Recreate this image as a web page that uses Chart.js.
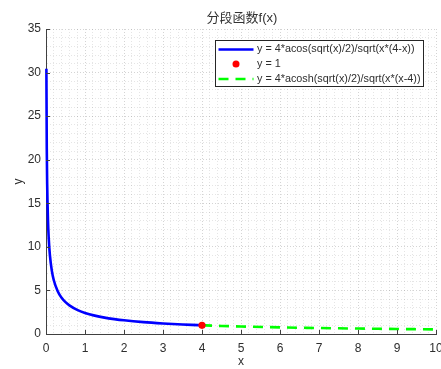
<!DOCTYPE html>
<html>
<head>
<meta charset="utf-8">
<script src="https://cdn.jsdelivr.net/npm/chart.js@4.4.1/dist/chart.umd.min.js"></script>
<style>
html,body{margin:0;padding:0;background:#fff;}
#wrap{position:relative;width:441px;height:369px;}
</style>
</head>
<body>
<div id="wrap"><canvas id="c" width="441" height="369"></canvas></div>
<script>
// ---- data ----
const titleText = '分段函数f(x)';
const xLabel = 'x';
const yLabel = 'y';
const seriesNames = [
  'y = 4*acos(sqrt(x)/2)/sqrt(x*(4-x))',
  'y = 1',
  'y = 4*acosh(sqrt(x)/2)/sqrt(x*(x-4))'
];
const x1 = [0.01,0.02,0.03,0.05,0.07,0.1,0.15,0.2,0.3,0.4,0.5,0.6,0.8,1,1.25,1.5,1.75,2,2.5,3,3.5,3.9,4];
const y1 = [30.45,21.27,17.20,13.13,10.97,9.04,7.24,6.17,4.91,4.16,3.66,3.29,2.77,2.42,2.11,1.88,1.71,1.57,1.36,1.21,1.09,1.02,1.00];
const xPoint = [4];
const yPoint = [1];
const x2 = [4,4.25,4.5,5,6,7,8,9,10];
const y2 = [1,0.96,0.924,0.861,0.760,0.684,0.623,0.574,0.533];
const xRange = [0,10];
const yRange = [0,35];
const xMajorStep = 1, xMinorStep = 0.2;
const yMajorStep = 5, yMinorStep = 1;

const FONT = 'Arial, "Liberation Sans", "Noto Sans CJK SC", sans-serif';
const TXT = '#2e2e2e';
const zip = (xs, ys) => xs.map((x, i) => ({x, y: ys[i]}));
const isMult = (v, s) => Math.abs(v / s - Math.round(v / s)) < 1e-6;

const colors = ['#0000ff', '#ff0000', '#00ff00'];
const dashPattern = [10, 7];

const decor = {
  id: 'decor',
  afterDraw(chart) {
    const ctx = chart.ctx;
    const a = chart.chartArea;
    const xs = chart.scales.x, ys = chart.scales.y;
    ctx.save();
    // inward tick marks
    ctx.strokeStyle = '#404040';
    ctx.lineWidth = 1;
    ctx.beginPath();
    xs.ticks.forEach(t => {
      if (!isMult(t.value, xMajorStep)) return;
      const px = Math.round(xs.getPixelForValue(t.value)) + 0.5;
      ctx.moveTo(px, a.bottom); ctx.lineTo(px, a.bottom - 4);
    });
    ys.ticks.forEach(t => {
      if (!isMult(t.value, yMajorStep)) return;
      const py = Math.round(ys.getPixelForValue(t.value)) + 0.5;
      ctx.moveTo(a.left, py); ctx.lineTo(a.left + 4, py);
    });
    ctx.stroke();

    // title
    ctx.fillStyle = '#333';
    ctx.font = '13px ' + FONT;
    ctx.textAlign = 'center';
    ctx.textBaseline = 'middle';
    ctx.fillText(titleText, (a.left + a.right) / 2 + 1, a.top - 11);

    // legend box
    const fs = 10.8;
    ctx.font = fs + 'px ' + FONT;
    const bx = a.left + 169, by = a.top + 11, bw = 208, bh = 46;
    ctx.fillStyle = '#fff';
    ctx.fillRect(bx, by, bw, bh);
    ctx.strokeStyle = '#262626';
    ctx.lineWidth = 1;
    ctx.strokeRect(bx + 0.5, by + 0.5, bw, bh);
    const rows = [by + 9.5, by + 24, by + 39];
    const sx0 = bx + 3.5, sx1 = bx + 38.5, tx = bx + 42;
    // row 1
    ctx.lineWidth = 2.5;
    ctx.strokeStyle = colors[0];
    ctx.beginPath(); ctx.moveTo(sx0, rows[0]); ctx.lineTo(sx1, rows[0]); ctx.stroke();
    // row 2
    ctx.fillStyle = colors[1];
    ctx.beginPath(); ctx.arc((sx0 + sx1) / 2, rows[1], 3.5, 0, Math.PI * 2); ctx.fill();
    // row 3
    ctx.strokeStyle = colors[2];
    ctx.setLineDash(dashPattern);
    ctx.beginPath(); ctx.moveTo(sx0, rows[2]); ctx.lineTo(sx1, rows[2]); ctx.stroke();
    ctx.setLineDash([]);
    ctx.fillStyle = TXT;
    ctx.textAlign = 'left';
    ctx.textBaseline = 'middle';
    ctx.fillText(seriesNames[0], tx, rows[0]);
    ctx.fillText(seriesNames[1], tx, rows[1]);
    ctx.fillText(seriesNames[2], tx, rows[2]);
    ctx.restore();
  }
};

const gridColor = (step) => (c) => (c.tick && isMult(c.tick.value, step)) ? 'rgba(0,0,0,0.17)' : 'rgba(0,0,0,0.10)';

new Chart(document.getElementById('c'), {
  type: 'line',
  data: {
    datasets: [
      {
        label: seriesNames[1], data: zip(xPoint, yPoint), showLine: false,
        pointRadius: 3.6, pointBackgroundColor: colors[1], pointBorderColor: colors[1],
        pointBorderWidth: 0, order: 0, clip: false
      },
      {
        label: seriesNames[0], data: zip(x1, y1), borderColor: colors[0], borderWidth: 2.6,
        pointRadius: 0, cubicInterpolationMode: 'monotone', fill: false, order: 1, clip: false
      },
      {
        label: seriesNames[2], data: zip(x2, y2), borderColor: colors[2], borderWidth: 2.6,
        borderDash: dashPattern, pointRadius: 0, cubicInterpolationMode: 'monotone', fill: false, order: 2, clip: false
      }
    ]
  },
  options: {
    responsive: false,
    animation: false,
    events: [],
    layout: { padding: { top: 29, left: 0, right: 5, bottom: 0 } },
    plugins: { legend: { display: false }, tooltip: { enabled: false }, title: { display: false } },
    scales: {
      x: {
        type: 'linear', min: xRange[0], max: xRange[1],
        afterFit(s) { s.height = 35; s.paddingLeft = 0; s.paddingRight = 0; },
        ticks: {
          stepSize: xMinorStep, autoSkip: false, maxRotation: 0, padding: 7,
          color: TXT, font: { family: FONT, size: 12 },
          callback: (v) => isMult(v, xMajorStep) ? String(Math.round(v)) : ''
        },
        grid: { color: gridColor(xMajorStep), lineWidth: 1, drawTicks: false },
        border: { display: true, color: '#404040', width: 1, dash: [1, 2] },
        title: { display: true, text: xLabel, color: TXT, font: { family: FONT, size: 12 }, padding: { top: 0, bottom: 0 } }
      },
      y: {
        type: 'linear', min: yRange[0], max: yRange[1],
        afterFit(s) { s.width = 46; s.paddingTop = 0; s.paddingBottom = 0; },
        ticks: {
          stepSize: yMinorStep, autoSkip: false, padding: 5,
          color: TXT, font: { family: FONT, size: 12 },
          callback: (v) => isMult(v, yMajorStep) ? String(Math.round(v)) : ''
        },
        grid: { color: gridColor(yMajorStep), lineWidth: 1, drawTicks: false },
        border: { display: true, color: '#404040', width: 1, dash: [1, 2] },
        title: { display: true, text: yLabel, color: TXT, font: { family: FONT, size: 12 }, padding: { top: 11, bottom: 0 } }
      }
    }
  },
  plugins: [decor]
});
</script>
</body>
</html>
